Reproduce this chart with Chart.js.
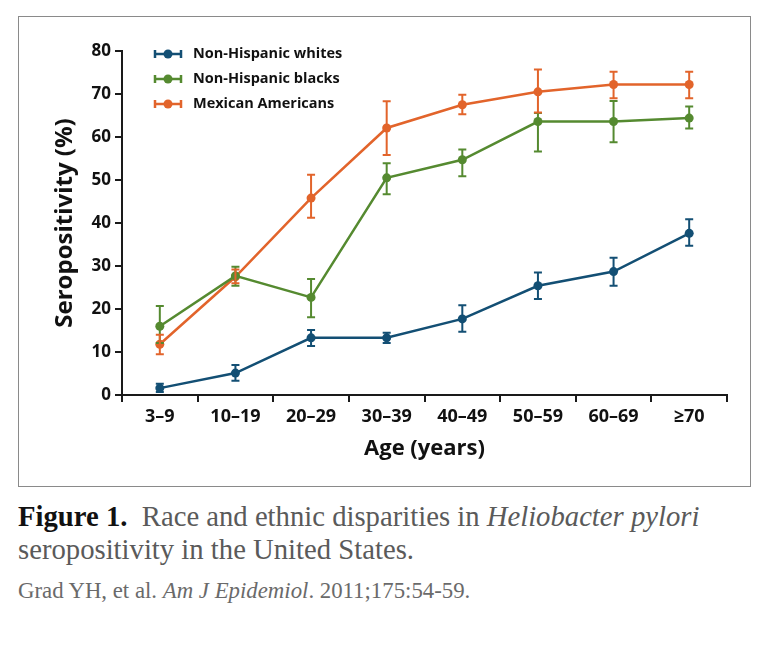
<!DOCTYPE html>
<html>
<head>
<meta charset="utf-8">
<script src="https://cdn.jsdelivr.net/npm/chart.js@4/dist/chart.umd.min.js"></script>
<style>
body { margin: 0; background: #fff; width: 769px; height: 655px; position: relative; }
#box { position: absolute; left: 18px; top: 16px; width: 731px; height: 469px; border: 1px solid #8a8a8a; }
#cap { position: absolute; left: 18px; top: 500px; width: 748px; font-family: "Liberation Serif", serif; font-size: 28.7px; line-height: 33px; color: #5a5a5a; }
#cap b { color: #111; }
#cite { position: absolute; left: 18px; top: 578px; font-family: "Liberation Serif", serif; font-size: 22.8px; color: #6a6a6a; }
</style>
</head>
<body>
<div id="box"><canvas id="chart" width="731" height="469"></canvas></div>
<div id="cap"><b>Figure 1.</b>&nbsp; Race and ethnic disparities in <i>Heliobacter pylori</i> seropositivity in the United States.</div>
<div id="cite">Grad YH, et al. <i>Am J Epidemiol</i>. 2011;175:54-59.</div>
<script>
var ageGroups = ['3–9', '10–19', '20–29', '30–39', '40–49', '50–59', '60–69', '≥70'];

var whites = [1.6, 5.1, 13.3, 13.3, 17.7, 25.4, 28.7, 37.6];
var whitesLow = [0.7, 3.3, 11.4, 12.1, 14.7, 22.3, 25.4, 34.7];
var whitesHigh = [2.6, 7.0, 15.1, 14.5, 20.9, 28.5, 31.9, 40.9];

var blacks = [16.0, 27.7, 22.7, 50.5, 54.7, 63.6, 63.6, 64.4];
var blacksLow = [12.1, 25.4, 18.1, 46.7, 50.9, 56.6, 58.8, 62.0];
var blacksHigh = [20.7, 29.8, 27.0, 53.9, 57.1, 65.6, 68.4, 67.1];

var mexican = [11.8, 27.5, 45.8, 62.1, 67.5, 70.5, 72.2, 72.2];
var mexicanLow = [9.5, 26.0, 41.2, 55.8, 65.3, 65.7, 69.0, 69.0];
var mexicanHigh = [14.0, 29.2, 51.2, 68.3, 69.8, 75.7, 75.2, 75.2];

var blue = '#134f74';
var green = '#558a30';
var orange = '#e2642b';
var font = '"Open Sans", sans-serif';

function series(label, data, low, high, color) {
	return {
		label: label,
		data: data,
		low: low,
		high: high,
		borderColor: color,
		backgroundColor: color,
		borderWidth: 2.5,
		pointRadius: 4.5,
		pointHoverRadius: 4.5,
		pointBorderWidth: 0,
		tension: 0
	};
}

// whiskers with caps, drawn from each dataset's low/high arrays
var errorBars = {
	id: 'errorBars',
	afterDatasetsDraw: function(chart) {
		var ctx = chart.ctx;
		var y = chart.scales.y;
		chart.data.datasets.forEach(function(ds, i) {
			var meta = chart.getDatasetMeta(i);
			ctx.save();
			ctx.strokeStyle = ds.borderColor;
			ctx.lineWidth = 2;
			meta.data.forEach(function(pt, j) {
				var top = y.getPixelForValue(ds.high[j]);
				var bot = y.getPixelForValue(ds.low[j]);
				ctx.beginPath();
				ctx.moveTo(pt.x, top);
				ctx.lineTo(pt.x, bot);
				ctx.moveTo(pt.x - 4, top);
				ctx.lineTo(pt.x + 4, top);
				ctx.moveTo(pt.x - 4, bot);
				ctx.lineTo(pt.x + 4, bot);
				ctx.stroke();
			});
			ctx.restore();
		});
	}
};

// legend sitting inside the plot, top-left
var boxLegend = {
	id: 'boxLegend',
	afterDraw: function(chart) {
		var ctx = chart.ctx;
		var x0 = chart.chartArea.left + 33;
		var y0 = chart.chartArea.top + 3;
		chart.data.datasets.forEach(function(ds, i) {
			var yy = y0 + i * 25;
			ctx.save();
			ctx.strokeStyle = ds.borderColor;
			ctx.fillStyle = ds.borderColor;
			ctx.lineWidth = 2.5;
			ctx.beginPath();
			ctx.moveTo(x0, yy);
			ctx.lineTo(x0 + 26, yy);
			ctx.moveTo(x0, yy - 4);
			ctx.lineTo(x0, yy + 4);
			ctx.moveTo(x0 + 26, yy - 4);
			ctx.lineTo(x0 + 26, yy + 4);
			ctx.stroke();
			ctx.beginPath();
			ctx.arc(x0 + 13, yy, 4.5, 0, Math.PI * 2);
			ctx.fill();
			ctx.fillStyle = '#111';
			ctx.font = 'bold 14.5px ' + font;
			ctx.textBaseline = 'middle';
			ctx.fillText(ds.label, x0 + 38, yy);
			ctx.restore();
		});
	}
};

var ctx = document.getElementById('chart').getContext('2d');
var myChart = new Chart(ctx, {
	type: 'line',
	data: {
		labels: ageGroups,
		datasets: [
			series('Non-Hispanic whites', whites, whitesLow, whitesHigh, blue),
			series('Non-Hispanic blacks', blacks, blacksLow, blacksHigh, green),
			series('Mexican Americans', mexican, mexicanLow, mexicanHigh, orange)
		]
	},
	options: {
		responsive: false,
		animation: false,
		layout: { padding: { top: 34, right: 23, left: 28, bottom: 20 } },
		plugins: {
			legend: { display: false },
			tooltip: { enabled: false }
		},
		scales: {
			x: {
				offset: true,
				grid: { offset: true, drawOnChartArea: false, drawTicks: true, tickLength: 7, color: '#1a1a1a', lineWidth: 2 },
				border: { display: true, color: '#1a1a1a', width: 2 },
				ticks: { color: '#111', font: { family: font, size: 18, weight: 'bold' }, padding: 4, maxRotation: 0 },
				title: { display: true, text: 'Age (years)', color: '#111', font: { family: font, size: 22, weight: 'bold' }, padding: { top: 6 } },
				afterFit: function(scale) { scale.height = 71; }
			},
			y: {
				min: 0,
				max: 80,
				ticks: { stepSize: 10, color: '#111', font: { family: font, size: 17, weight: 'bold' }, padding: 4 },
				grid: { drawOnChartArea: false, drawTicks: true, tickLength: 7, color: '#1a1a1a', lineWidth: 2 },
				border: { display: true, color: '#1a1a1a', width: 2 },
				title: { display: true, text: 'Seropositivity (%)', color: '#111', font: { family: font, size: 24, weight: 'bold' }, padding: { bottom: 2 } },
				afterFit: function(scale) { scale.width = 75; }
			}
		}
	},
	plugins: [errorBars, boxLegend]
});
</script>
</body>
</html>
